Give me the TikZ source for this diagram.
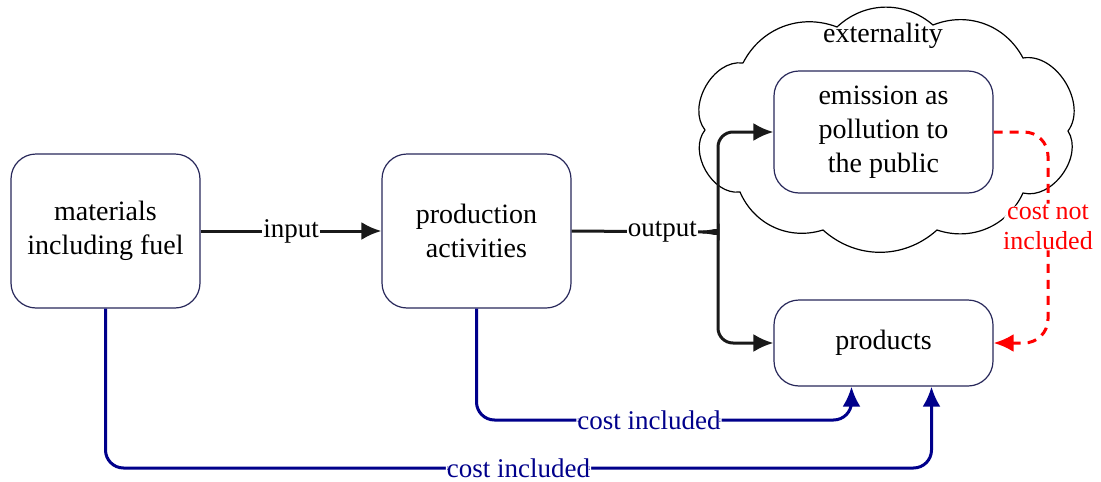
\documentclass[tikz,border=0pt]{standalone}
\usepackage{fontspec}
\newfontfamily\tnr{Liberation Serif}
\usetikzlibrary{arrows.meta,calc}
\definecolor{navy}{RGB}{0,0,139}
\definecolor{boxline}{RGB}{40,40,90}
\begin{document}
\begin{tikzpicture}[x=1pt,y=-1pt,
  box/.style={draw=boxline,line width=1.2pt,rounded corners=25pt,align=center,
    font=\tnr\fontsize{28}{34}\selectfont,inner sep=0pt},
  tipp/.tip={Latex[length=20pt,width=18pt]},
  flow/.style={line width=3pt,draw=black!90,-tipp},
  cost/.style={line width=3pt,draw=navy,rounded corners=18pt,-tipp},
  redflow/.style={line width=3pt,draw=red,dash pattern=on 9pt off 7pt,rounded corners=24pt,-tipp},
  lbl/.style={fill=white,inner sep=1pt,font=\tnr\fontsize{27}{30}\selectfont},
  bump/.style={bend left=42},
  sidebump/.style={bend left=68}]
\useasboundingbox (0,0) rectangle (1101,482);
% cloud
\coordinate (ca) at (743,63); \coordinate (cb) at (837,27); \coordinate (cc) at (933,25);
\coordinate (cd) at (1023,58); \coordinate (ce) at (1068,131); \coordinate (cf) at (1023,193);
\coordinate (cg) at (937,230); \coordinate (ch) at (823,230); \coordinate (ci) at (740,192);
\coordinate (cj) at (705,130);
\draw[line width=1.2pt] (ca) to[bump] (cb) to[bump] (cc) to[bump] (cd) to[sidebump] (ce)
  to[sidebump] (cf) to[bump] (cg) to[bump] (ch) to[bump] (ci) to[sidebump] (cj) to[sidebump] (ca);
\node[font=\tnr\fontsize{28}{30}\selectfont] (ext) at (883,36) {externality};
\node[box,minimum width=189pt,minimum height=154pt] (mat) at (105.5,231) {materials\\including fuel};
\node[box,minimum width=189pt,minimum height=154pt] (prod) at (476.5,231) {production\\activities};
\node[box,fill=white,minimum width=219pt,minimum height=122pt] (emi) at (883.5,132) {emission as\\pollution to\\the public};
\node[box,fill=white,minimum width=219pt,minimum height=86pt] (prodt) at (883.5,343) {products};
\coordinate (tip) at (703,232);
\coordinate (in1) at ($(prodt.south)+(-32,0)$);
\coordinate (in2) at ($(prodt.south)+(48,0)$);
\draw[flow] (mat) -- node[lbl]{input} (prod);
\draw[line width=3pt,draw=black!90] (prod.east) -- node[lbl,pos=0.69]{output} (tip);
\draw[flow,rounded corners=15pt] (tip) .. controls (713,232) and (718,228) .. (718,218) -- (718,132) -- (emi.west);
\draw[flow,rounded corners=15pt] (tip) .. controls (713,232) and (718,236) .. (718,246) -- (718,343) -- (prodt.west);
\draw[redflow] (emi.east) -- (1048,132) -- node[lbl,text=red,align=center,pos=0.45,font=\tnr\fontsize{26}{30}\selectfont]{cost not\\included} (1048,343) -- (prodt.east);
\draw[cost] (prod.south) -- (476.5,420) -- node[lbl,text=navy,pos=0.46]{cost included} (in1 |- 0,420) -- (in1);
\draw[cost] (mat.south) -- (105.5,468) -- node[lbl,text=navy]{cost included} (in2 |- 0,468) -- (in2);
\end{tikzpicture}
\end{document}
